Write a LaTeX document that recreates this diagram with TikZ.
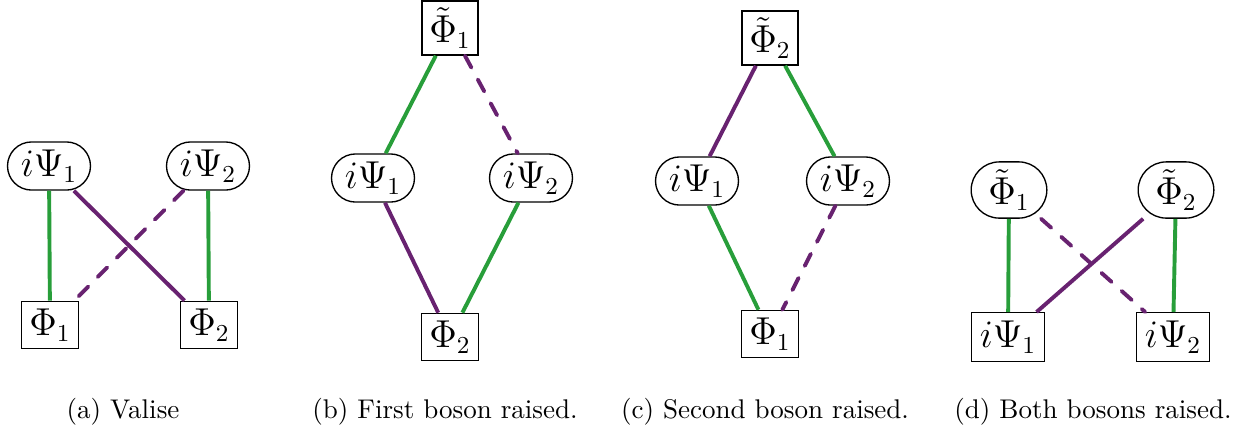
\documentclass[tikz,border=0pt]{standalone}
\definecolor{lgreen}{RGB}{40,158,58}
\definecolor{lpurple}{RGB}{104,34,112}
\tikzset{
  every node/.style={font=\fontsize{13.5}{16}\selectfont, inner sep=1pt},
  sqbox/.style={draw, line width=0.5pt, rectangle, minimum width=21pt, minimum height=17.5pt},
  widebox/.style={draw, line width=0.5pt, rectangle, minimum width=27pt, minimum height=18pt},
  pill/.style={draw, line width=0.5pt, rectangle, rounded corners=8.9pt, minimum width=30.7pt, minimum height=17.8pt},
  blob/.style={draw, line width=0.5pt, rectangle, rounded corners=10.4pt, minimum width=28pt, minimum height=20.8pt},
  tbox/.style={draw, line width=0.5pt, rectangle, minimum width=20.7pt, minimum height=20pt},
  gline/.style={draw=lgreen, line width=1.45pt},
  pline/.style={draw=lpurple, line width=1.45pt},
  dline/.style={draw=lpurple, line width=1.45pt, line cap=round, dash pattern=on 5pt off 5pt},
  capt/.style={font=\fontsize{10}{12}\selectfont}
}
\begin{document}
\begin{tikzpicture}[x=0.37pt,y=-0.37pt]
\useasboundingbox (0,0) rectangle (1238,434);
% (a)
\node[pill] (a1) at (49,166) {$i\Psi_1$};
\node[pill] (a2) at (208,166) {$i\Psi_2$};
\node[sqbox] (a3) at (50,325) {$\Phi_1$};
\node[sqbox] (a4) at (209,325) {$\Phi_2$};
\draw[gline] (a1) -- (a3);
\draw[gline] (a2) -- (a4);
\draw[pline] (a1) -- (a4);
\draw[dline] (a2) -- (a3);
\node[capt] (ca) at (123,412) {(a) Valise};
% (b)
\node[tbox] (b0) at (450,28) {$\tilde\Phi_1$};
\node[pill] (b1) at (373,178) {$i\Psi_1$};
\node[pill] (b2) at (531,178) {$i\Psi_2$};
\node[sqbox] (b3) at (450,337) {$\Phi_2$};
\draw[gline] (b0) -- (b1);
\draw[dline] (b0) -- (b2);
\draw[pline] (b1) -- (b3);
\draw[gline] (b2) -- (b3);
\node[capt] (cb) at (445,412) {(b) First boson raised.};
% (c)
\node[tbox] (c0) at (770,38) {$\tilde\Phi_2$};
\node[pill] (c1) at (697,181) {$i\Psi_1$};
\node[pill] (c2) at (848,181) {$i\Psi_2$};
\node[sqbox] (c3) at (770,334) {$\Phi_1$};
\draw[pline] (c0) -- (c1);
\draw[gline] (c0) -- (c2);
\draw[gline] (c1) -- (c3);
\draw[dline] (c2) -- (c3);
\node[capt] (cc) at (765,412) {(c) Second boson raised.};
% (d)
\node[blob] (d0) at (1009,190) {$\tilde\Phi_1$};
\node[blob] (d1) at (1176,190) {$\tilde\Phi_2$};
\node[widebox] (d2) at (1008,337) {$i\Psi_1$};
\node[widebox] (d3) at (1173,337) {$i\Psi_2$};
\draw[gline] (d0) -- (d2);
\draw[gline] (d1) -- (d3);
\draw[pline] (d2) -- (d1);
\draw[dline] (d0) -- (d3);
\node[capt] (cd) at (1093,412) {(d) Both bosons raised.};
\end{tikzpicture}
\end{document}
